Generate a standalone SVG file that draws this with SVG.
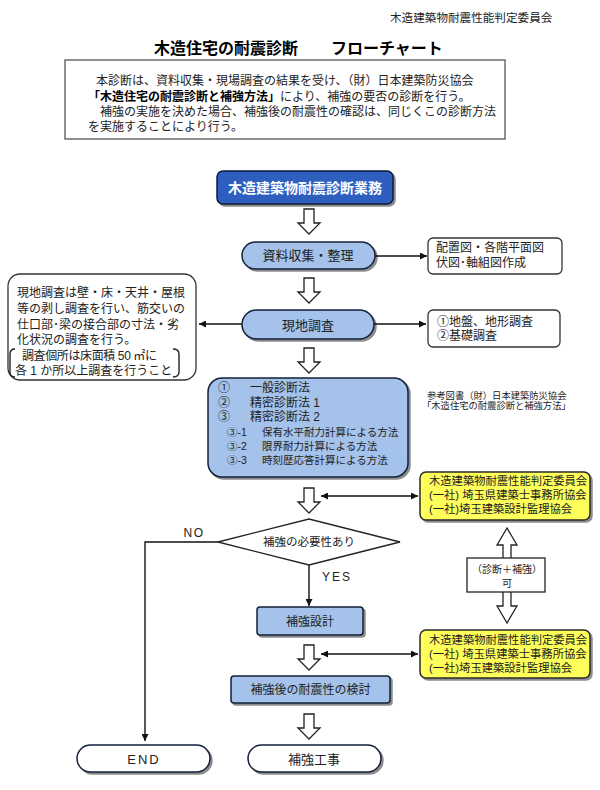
<svg xmlns="http://www.w3.org/2000/svg" width="600" height="790" viewBox="0 0 600 790">
<style>
text{font-family:"Liberation Sans","Noto Sans CJK JP",sans-serif;fill:#222}
.t12{font-size:12px}
.t13{font-size:13px}
.c{text-anchor:middle}
.lb{fill:#a4c2ea;stroke:#15203a;stroke-width:1.5}
.wb{fill:#fff;stroke:#15203a;stroke-width:1.5}
.yb{fill:#ffff5c;stroke:#2a2a2a;stroke-width:1.5}
.ib{fill:#fff;stroke:#333;stroke-width:1.3}
.ha{fill:#fff;stroke:#222;stroke-width:1.3}
.ln{fill:none;stroke:#111;stroke-width:1.4}
.yt{font-size:11.3px}
</style>
<defs>
<filter id="sh" x="-5%" y="-10%" width="115%" height="135%"><feDropShadow dx="2" dy="2" stdDeviation="0.7" flood-color="#000" flood-opacity="0.45"/></filter>
<marker id="ah" viewBox="0 0 10 10" refX="10" refY="5" markerWidth="9" markerHeight="7" orient="auto-start-reverse" markerUnits="userSpaceOnUse"><path d="M0,0 L10,5 L0,10 z" fill="#111"/></marker>
<path id="hollow" d="M-5,0 H5 V14 H11 L0,25 L-11,14 H-5 Z"/>
</defs>

<g id="header">
<text x="390" y="22" style="font-size:11.6px">木造建築物耐震性能判定委員会</text>
<text x="154" y="54" style="font-size:16px;font-weight:bold;fill:#000">木造住宅の耐震診断</text>
<text x="331" y="54" style="font-size:16px;font-weight:bold;fill:#000">フローチャート</text>
</g>

<g id="intro">
<rect x="65" y="60" width="440" height="79" fill="#fff" stroke="#555" stroke-width="1.3"/>
<text class="t12" x="96" y="85">本診断は、資料収集・現場調査の結果を受け、（財）日本建築防災協会</text>
<text class="t12" x="88" y="101"><tspan style="font-weight:bold;fill:#000">「木造住宅の耐震診断と補強方法」</tspan>により、補強の要否の診断を行う。</text>
<text class="t12" x="100" y="116">補強の実施を決めた場合、補強後の耐震性の確認は、同じくこの診断方法</text>
<text class="t12" x="88" y="131">を実施することにより行う。</text>
</g>

<g id="connectors">
<use href="#hollow" class="ha" transform="translate(309,209)"/>
<use href="#hollow" class="ha" transform="translate(309,278)"/>
<use href="#hollow" class="ha" transform="translate(309,348)"/>
<use href="#hollow" class="ha" transform="translate(309,488)"/>
<use href="#hollow" class="ha" transform="translate(309,645)"/>
<use href="#hollow" class="ha" transform="translate(309,714)"/>
<line class="ln" x1="375" y1="256" x2="427" y2="256" marker-end="url(#ah)"/>
<line class="ln" x1="374" y1="324" x2="426" y2="324" marker-end="url(#ah)"/>
<line class="ln" x1="242" y1="324" x2="199" y2="324" marker-end="url(#ah)"/>
<line class="ln" x1="321" y1="496" x2="418" y2="496" marker-start="url(#ah)" marker-end="url(#ah)"/>
<line class="ln" x1="321" y1="654" x2="418" y2="654" marker-start="url(#ah)" marker-end="url(#ah)"/>
<polyline class="ln" points="218,542 145,542 145,741" marker-end="url(#ah)"/>
<line class="ln" x1="309" y1="565" x2="309" y2="606" marker-end="url(#ah)"/>
<path class="ha" d="M507,528 L517,545 H511 V606 H517 L507,623 L497,606 H503 V545 H497 Z"/>
<text x="194" y="537" class="c" style="font-size:12px;letter-spacing:1.5px">NO</text>
<text x="337" y="581" class="c" style="font-size:12px;letter-spacing:2px">YES</text>
</g>

<g id="n-top">
<rect x="217" y="171" width="176" height="33" rx="6" fill="#2d5fbf" stroke="#0c1a3a" stroke-width="1.5" filter="url(#sh)"/>
<text x="305" y="193" class="c" style="font-size:14px;font-weight:bold;fill:#fff">木造建築物耐震診断業務</text>
</g>

<g id="n-shiryo">
<rect x="242" y="242" width="133" height="27" rx="13.5" class="lb" filter="url(#sh)"/>
<text x="308" y="260" class="c t13">資料収集・整理</text>
</g>

<g id="n-zumen">
<rect x="428" y="238" width="134" height="36" rx="5" class="ib"/>
<text x="436" y="252" class="t12">配置図・各階平面図</text>
<text x="436" y="267" class="t12">伏図･軸組図作成</text>
</g>

<g id="n-genchi">
<rect x="242" y="310" width="132" height="29" rx="14.5" class="lb" filter="url(#sh)"/>
<text x="308" y="329.5" class="c t13">現地調査</text>
</g>

<g id="n-jiban">
<rect x="428" y="310" width="132" height="37" rx="5" class="ib"/>
<text x="437" y="325.5" class="t12">①地盤、地形調査</text>
<text x="437" y="339.5" class="t12">②基礎調査</text>
</g>

<g id="n-left">
<rect x="8" y="274" width="188" height="106" rx="12" class="ib"/>
<text x="17" y="297" class="t12">現地調査は壁・床・天井・屋根</text>
<text x="17" y="313" class="t12">等の剥し調査を行い、筋交いの</text>
<text x="17" y="328.5" class="t12">仕口部･梁の接合部の寸法・劣</text>
<text x="17" y="344" class="t12">化状況の調査を行う。</text>
<text x="22" y="359.5" class="t12" textLength="135" lengthAdjust="spacing">調査個所は床面積 50 ㎡に</text>
<text x="15" y="375" class="t12">各 1 か所以上調査を行うこと</text>
<path d="M15,349 Q10,349 10,354 V372 Q10,377 15,377" fill="none" stroke="#222" stroke-width="1.4"/>
<path d="M173,349 Q179,349 179,354 V372 Q179,377 173,377" fill="none" stroke="#222" stroke-width="1.4"/>
</g>

<g id="n-method">
<rect x="208" y="378" width="200" height="99" rx="14" class="lb" filter="url(#sh)"/>
<text class="t12" y="392"><tspan x="218">①</tspan><tspan x="250">一般診断法</tspan></text>
<text class="t12" y="407"><tspan x="218">②</tspan><tspan x="250">精密診断法 1</tspan></text>
<text class="t12" y="421"><tspan x="218">③</tspan><tspan x="250">精密診断法 2</tspan></text>
<text style="font-size:10.5px" y="436"><tspan x="227">③-1</tspan><tspan x="262">保有水平耐力計算による方法</tspan></text>
<text style="font-size:10.5px" y="450"><tspan x="227">③-2</tspan><tspan x="262">限界耐力計算による方法</tspan></text>
<text style="font-size:10.5px" y="464"><tspan x="227">③-3</tspan><tspan x="262">時刻歴応答計算による方法</tspan></text>
</g>

<g id="ref">
<text x="427" y="398.5" style="font-size:9.3px">参考図書（財）日本建築防災協会</text>
<text x="422" y="409" style="font-size:9.3px">「木造住宅の耐震診断と補強方法」</text>
</g>

<g id="n-yellow1">
<rect x="420" y="472" width="170" height="48" rx="6" class="yb" filter="url(#sh)"/>
<text x="429" y="485" class="yt">木造建築物耐震性能判定委員会</text>
<text x="429" y="499" class="yt">(一社) 埼玉県建築士事務所協会</text>
<text x="429" y="513" class="yt">(一社)埼玉建築設計監理協会</text>
</g>

<g id="n-decision">
<polygon points="218,542 309,519 400,542 309,565" fill="#fff" stroke="#222" stroke-width="1.3"/>
<text x="309" y="546" class="c" style="font-size:11.5px">補強の必要性あり</text>
</g>

<g id="n-ka">
<rect x="467" y="558" width="78" height="34" fill="#fff" stroke="#222" stroke-width="1.3"/>
<text x="507" y="573" class="c" style="font-size:10px">（診断＋補強）</text>
<text x="507" y="587" class="c" style="font-size:10px">可</text>
</g>

<g id="n-sekkei">
<rect x="257" y="607" width="106" height="28" rx="3" class="lb" filter="url(#sh)"/>
<text x="310" y="625.5" class="c t12">補強設計</text>
</g>

<g id="n-yellow2">
<rect x="420" y="630" width="170" height="48" rx="6" class="yb" filter="url(#sh)"/>
<text x="429" y="644" class="yt">木造建築物耐震性能判定委員会</text>
<text x="429" y="658" class="yt">(一社) 埼玉県建築士事務所協会</text>
<text x="429" y="672" class="yt">(一社)埼玉建築設計監理協会</text>
</g>

<g id="n-kento">
<rect x="231" y="676" width="159" height="27" rx="3" class="lb" filter="url(#sh)"/>
<text x="310.5" y="694" class="c t12">補強後の耐震性の検討</text>
</g>

<g id="n-end">
<rect x="77" y="745" width="133" height="27" rx="13.5" class="wb" filter="url(#sh)"/>
<text x="144" y="763.5" class="c" style="font-size:13px;letter-spacing:2px">END</text>
</g>

<g id="n-koji">
<rect x="248" y="745" width="133" height="27" rx="13.5" class="wb" filter="url(#sh)"/>
<text x="314" y="763.5" class="c t13">補強工事</text>
</g>
</svg>
